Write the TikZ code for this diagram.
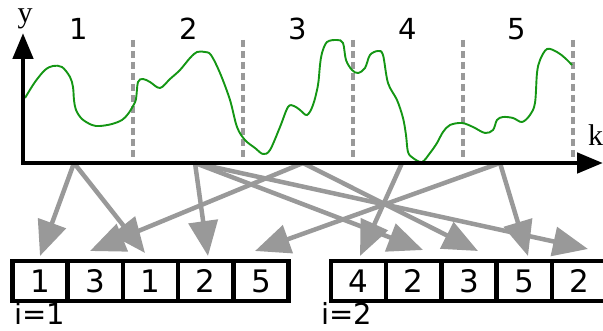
\documentclass[tikz,border=0pt]{standalone}
\usepackage{fontspec}
\setmainfont{DejaVu Sans}
\newfontfamily\seriffont{Liberation Serif}
\usetikzlibrary{arrows.meta}
\definecolor{curvegreen}{RGB}{20,150,20}
\definecolor{arrgray}{RGB}{153,153,153}
\begin{document}
\begin{tikzpicture}[x=1pt,y=-1pt,
  cell/.style={draw=black, line width=4.5pt, minimum width=55.2pt, minimum height=40pt, inner sep=0pt, outer sep=0pt, font=\fontsize{31}{31}\selectfont},
  toplab/.style={font=\fontsize{29}{29}\selectfont, inner sep=0pt},
  ilab/.style={font=\fontsize{29}{29}\selectfont, inner sep=0pt, anchor=base west},
  axlab/.style={font=\seriffont\fontsize{30}{30}\selectfont, inner sep=0pt},
  dashline/.style={draw=arrgray, line width=4pt, dash pattern=on 7pt off 4pt},
  curve/.style={draw=curvegreen, line width=1.9pt},
  garrow/.style={draw=arrgray, line width=4.5pt, -{Triangle[length=35pt, width=29pt]}},
  axis/.style={draw=black, line width=4.8pt, {Triangle[length=26pt, width=20pt]}-{Triangle[length=26pt, width=20pt]}}
]
\useasboundingbox (0,0) rectangle (603,331);

% axis coordinates
\coordinate (Y) at (23,33);
\coordinate (O) at (23,163);
\coordinate (K) at (603,163);

% sources on the axis
\coordinate (s1) at (74,163);
\coordinate (s2) at (195,163);
\coordinate (s3) at (303,163);
\coordinate (s4) at (402,163);
\coordinate (s5) at (500,163);

% dashed separators
\foreach \x in {133,243,353,463,573} \draw[dashline] (\x,40) -- (\x,162);

% curve
\draw[curve] plot[smooth, tension=0.55] coordinates {
(25,98) (35,82) (45,70) (53,66) (62,67) (70,77) (73,87) (74,100) (76,110) (82,119) (92,125) (100,126) (112,124) (122,120) (128,114) (133,106) (136,99) (138,82) (143,79) (150,82) (160,88) (170,79) (180,70) (190,58) (197,52) (205,52) (211,55) (220,73) (230,100) (237,127) (245,140) (255,148) (263,154) (270,150) (280,127) (288,107) (294,106) (300,110) (307,115) (313,105) (318,85) (320,65) (322,53) (327,42) (337,40) (343,43) (346,60) (352,70) (358,73) (365,68) (370,55) (378,51) (383,55) (388,83) (397,100) (403,118) (406,135) (408,152) (413,158) (422,162) (430,153) (437,143) (443,132) (450,125) (462,123) (473,127) (485,133) (493,130) (497,120) (503,117) (513,118) (522,122) (530,115) (535,103) (537,73) (540,60) (547,49) (557,52) (565,58) (572,65)};

% top labels
\node[toplab] (n1) at (79,29) {1};
\node[toplab] (n2) at (189,29) {2};
\node[toplab] (n3) at (298,29) {3};
\node[toplab] (n4) at (408,29) {4};
\node[toplab] (n5) at (517,29) {5};

% axis labels
\node[axlab, anchor=base] (ylab) at (25,23) {y};
\node[axlab, anchor=base west] (klab) at (588,146) {k};

% boxes
\node[cell] (a1) at (40.1,281) {1};
\node[cell] (a2) at (95.3,281) {3};
\node[cell] (a3) at (150.5,281) {1};
\node[cell] (a4) at (205.7,281) {2};
\node[cell] (a5) at (260.9,281) {5};
\node[cell] (b1) at (358.6,281) {4};
\node[cell] (b2) at (413.8,281) {2};
\node[cell] (b3) at (469.0,281) {3};
\node[cell] (b4) at (524.2,281) {5};
\node[cell] (b5) at (579.4,281) {2};

\node[ilab] (i1) at (14,325) {i=1};
\node[ilab] (i2) at (321,325) {i=2};

% arrow tips
\coordinate (t1) at (40,256);
\coordinate (t2) at (90,251);
\coordinate (t3) at (145,253);
\coordinate (t4) at (208,256);
\coordinate (t5) at (255,251);
\coordinate (u1) at (360,256);
\coordinate (u2) at (423,250);
\coordinate (u3) at (478,251);
\coordinate (u4) at (528,256);
\coordinate (u5) at (588,249);

% arrows
\draw[garrow] (s1) -- (t1);
\draw[garrow] (s1) -- (t3);
\draw[garrow] (s2) -- (t4);
\draw[garrow] (s2) -- (u2);
\draw[garrow] (s2) -- (u5);
\draw[garrow] (s3) -- (t2);
\draw[garrow] (s3) -- (u3);
\draw[garrow] (s4) -- (u1);
\draw[garrow] (s5) -- (t5);
\draw[garrow] (s5) -- (u4);

% axes
\draw[axis] (Y) -- (O) -- (K);
\end{tikzpicture}
\end{document}
